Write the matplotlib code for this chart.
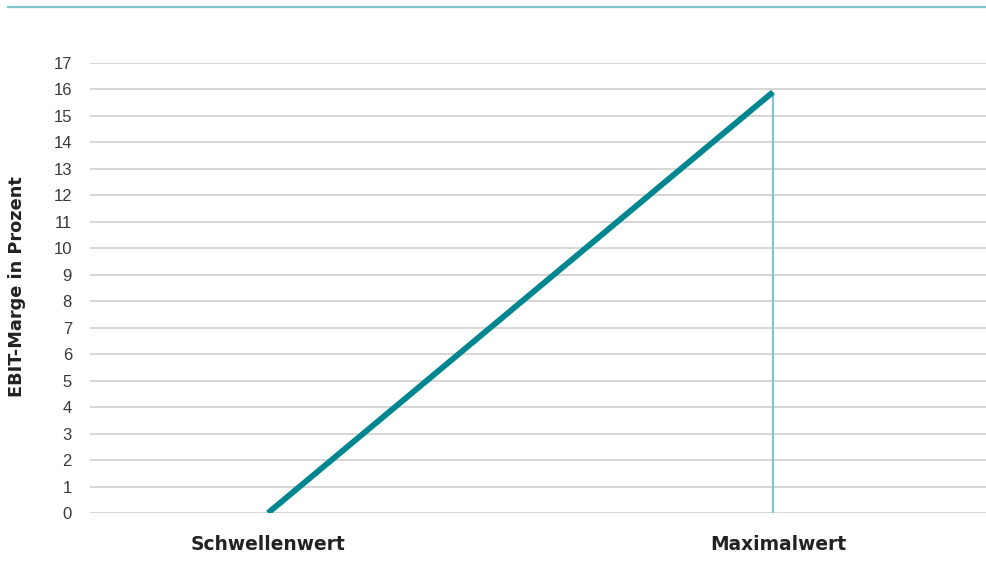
import matplotlib
matplotlib.use("Agg")
import matplotlib.pyplot as plt
import matplotlib.transforms as mtransforms
from matplotlib.lines import Line2D

categories = ["Schwellenwert", "Maximalwert"]
values = [0, 15.9]
yticks = list(range(0, 18))
ylabel = "EBIT-Marge in Prozent"

plt.rcParams['font.family'] = ['Liberation Sans', 'DejaVu Sans']

fig = plt.figure(figsize=(9.87, 5.85), dpi=100)
ax = fig.add_axes([90/987, 1 - 513/585, (987-90)/987, (513-63)/585])

xpos = [1, 2]
ax.plot(xpos, values, color="#00868f", lw=4.2, solid_capstyle="butt", zorder=3)
ax.vlines(xpos[1], 0, values[1], color="#86c3d0", lw=1.6, zorder=2)

ax.set_xlim(0.6475, 2.424)
ax.set_ylim(0, 17)
ax.set_yticks(yticks)
ax.set_yticklabels([str(t) for t in yticks], fontsize=12, color="#3a3a3a")
ax.yaxis.grid(True, color="#d0d0d0", lw=1.2)
ax.set_axisbelow(True)
ax.tick_params(axis="y", length=0, pad=13)
ax.set_xticks(xpos)
ax.set_xticklabels(categories, fontsize=13.4, fontweight="bold", color="#222222",
                   family=['DejaVu Sans'])
ax.tick_params(axis="x", length=0, pad=16)
lbl = ax.get_xticklabels()[1]
lbl.set_transform(lbl.get_transform() + mtransforms.ScaledTranslation(5/100, 0, fig.dpi_scale_trans))
for s in ax.spines.values():
    s.set_visible(False)

fig.text(17/987, 1 - 287/585, ylabel, rotation=90, fontsize=12.8, fontweight="bold",
         color="#222222", ha="center", va="center", family=['DejaVu Sans'])

fig.add_artist(Line2D([8/987, 1.0], [1 - 7/585, 1 - 7/585], color="#7fc4cc", lw=1.6,
                      transform=fig.transFigure))

fig.savefig("out.png", dpi=100)
